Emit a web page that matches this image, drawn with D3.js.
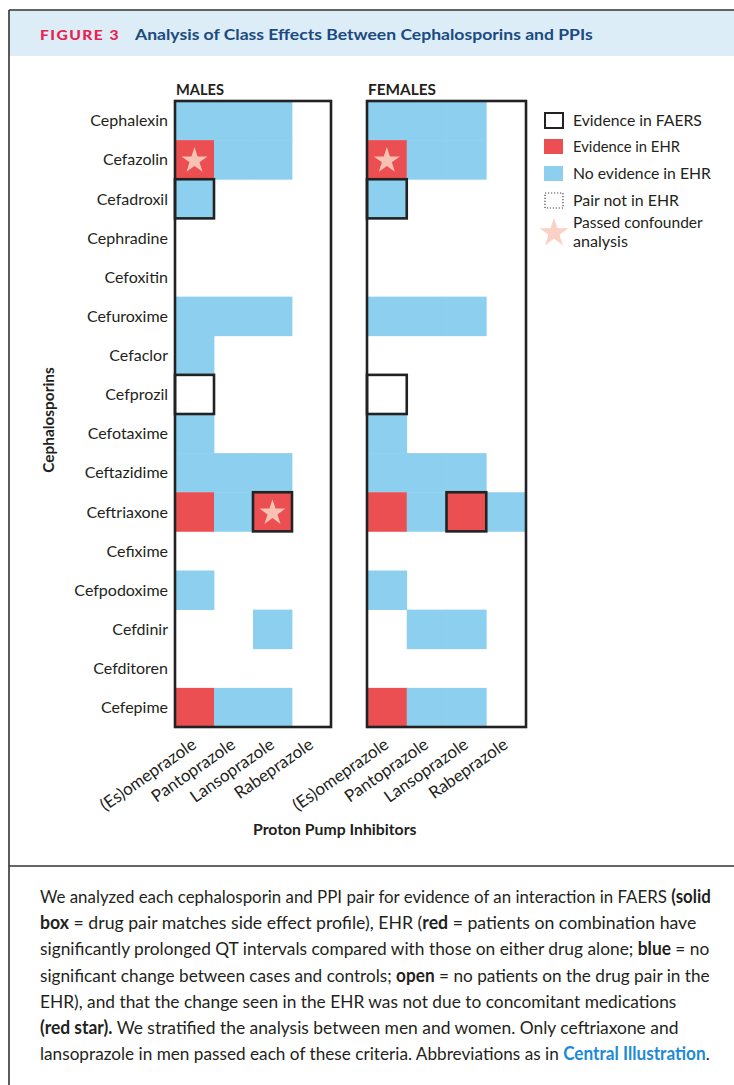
<!DOCTYPE html>
<html><head><meta charset="utf-8">
<script src="https://cdn.jsdelivr.net/npm/d3@7"></script>
<style>body{margin:0;background:#fff} svg{display:block}</style>
</head><body>
<svg id="c" width="734" height="1085"></svg>
<script>
// ---------- data ----------
const cephalosporins = ["Cephalexin","Cefazolin","Cefadroxil","Cephradine","Cefoxitin","Cefuroxime","Cefaclor","Cefprozil","Cefotaxime","Ceftazidime","Ceftriaxone","Cefixime","Cefpodoxime","Cefdinir","Cefditoren","Cefepime"];
const ppis = ["(Es)omeprazole","Pantoprazole","Lansoprazole","Rabeprazole"];
// EHR result per cephalosporin, one character per PPI: R = evidence, B = no evidence, - = pair not in EHR
const maleEHR   = ["BBB-","RBB-","B---","----","----","BBB-","B---","----","B---","BBB-","RBR-","----","B---","--B-","----","RBB-"];
const femaleEHR = ["BBB-","RBB-","B---","----","----","BBB-","----","----","B---","BBB-","RBRB","----","B---","-BB-","----","RBB-"];
const maleFAERS   = [["Cefadroxil","(Es)omeprazole"],["Cefprozil","(Es)omeprazole"],["Ceftriaxone","Lansoprazole"]];
const femaleFAERS = [["Cefadroxil","(Es)omeprazole"],["Cefprozil","(Es)omeprazole"],["Ceftriaxone","Lansoprazole"]];
const maleStar   = [["Cefazolin","(Es)omeprazole"],["Ceftriaxone","Lansoprazole"]];
const femaleStar = [["Cefazolin","(Es)omeprazole"]];
const legendLabels = ["Evidence in FAERS","Evidence in EHR","No evidence in EHR","Pair not in EHR","Passed confounder|analysis"];
const panelTitles = ["MALES","FEMALES"];

// ---------- style ----------
const BLUE = "#8dcfee", RED = "#ec4f52", STAR = "#f7c2b2", INK = "#231f20";
const FONT = "Lato, 'Liberation Sans', Arial, sans-serif";

const svg = d3.select("#c").style("font-family", FONT);

function fit(sel, target, x, y, rot) {
  sel.attr("x", 0).attr("y", 0);
  const w = sel.node().getBBox().width;
  const s = target / w;
  sel.attr("transform", `translate(${x},${y})${rot ? ` rotate(${rot})` : ""} scale(${s},1)`);
  return sel;
}

// ---------- frame & header ----------
svg.append("rect").attr("x", 9).attr("y", 10).attr("width", 725).attr("height", 46).attr("fill", "#dcedf7");
svg.append("line").attr("x1", 9).attr("x2", 734).attr("y1", 10).attr("y2", 10).attr("stroke", "#333").attr("stroke-width", 1.6);
svg.append("line").attr("x1", 9).attr("x2", 9).attr("y1", 10).attr("y2", 1085).attr("stroke", "#333").attr("stroke-width", 1.6);
svg.append("line").attr("x1", 9).attr("x2", 734).attr("y1", 866).attr("y2", 866).attr("stroke", "#333").attr("stroke-width", 1.6);

fit(svg.append("text").text("FIGURE 3").attr("font-weight", 900).attr("font-size", 13)
  .attr("letter-spacing", 1.2).attr("fill", "#e5234f"), 80, 40, 40);
fit(svg.append("text").text("Analysis of Class Effects Between Cephalosporins and PPIs")
  .attr("font-weight", 700).attr("font-size", 16).attr("fill", "#1b4a80"), 459, 135, 40);

// ---------- scales ----------
const y = d3.scaleBand().domain(cephalosporins).range([101, 727]);
const xMale = d3.scaleBand().domain(ppis).range([175, 331]);
const xFemale = d3.scaleBand().domain(ppis).range([367, 526]);

const star = d3.symbol().type(d3.symbolStar).size(210);

function panel(x, ehr, faers, stars, title, titleW) {
  const g = svg.append("g");
  const cells = [];
  cephalosporins.forEach((c, i) => ppis.forEach((p, j) => {
    const v = ehr[i][j];
    if (v !== "-") cells.push({c, p, v});
  }));
  g.selectAll("rect.cell").data(cells).join("rect").attr("class", "cell")
    .attr("x", d => x(d.p)).attr("y", d => y(d.c))
    .attr("width", x.bandwidth() + 0.4).attr("height", y.bandwidth() + 0.4)
    .attr("fill", d => d.v === "R" ? RED : BLUE);
  g.selectAll("path.star").data(stars).join("path").attr("class", "star")
    .attr("d", star).attr("fill", STAR)
    .attr("transform", d => `translate(${x(d[1]) + x.bandwidth() / 2},${y(d[0]) + y.bandwidth() / 2 + 1})`);
  g.selectAll("rect.faers").data(faers).join("rect").attr("class", "faers")
    .attr("x", d => x(d[1])).attr("y", d => y(d[0]))
    .attr("width", x.bandwidth()).attr("height", y.bandwidth())
    .attr("fill", "none").attr("stroke", "#222").attr("stroke-width", 2.6);
  const [x0, x1] = x.range(), [y0, y1] = y.range();
  g.append("rect").attr("x", x0).attr("y", y0).attr("width", x1 - x0).attr("height", y1 - y0)
    .attr("fill", "none").attr("stroke", "#222").attr("stroke-width", 2.6);
  fit(g.append("text").text(title).attr("font-weight", 700).attr("font-size", 15).attr("fill", INK), titleW, x0 + 1, 95);

  const ax = g.append("g").attr("transform", `translate(0,${y1})`)
    .call(d3.axisBottom(x).tickSize(0));
  ax.select(".domain").remove();
  ax.selectAll("text").attr("x", 0).attr("y", 0).attr("dy", 0)
    .attr("transform", "translate(3,20) rotate(-35)").attr("text-anchor", "end")
    .attr("font-family", FONT).attr("font-size", 17).attr("fill", INK);
}
panel(xMale, maleEHR, maleFAERS, maleStar, panelTitles[0], 48);
panel(xFemale, femaleEHR, femaleFAERS, femaleStar, panelTitles[1], 68);

// y axis
const ay = svg.append("g").attr("transform", "translate(175,0)")
  .call(d3.axisLeft(y).tickSize(0).tickPadding(7));
ay.select(".domain").remove();
ay.selectAll("text").attr("font-family", FONT).attr("font-size", 16).attr("fill", INK).attr("dy", "0.36em");

fit(svg.append("text").text("Cephalosporins").attr("font-weight", 700).attr("font-size", 15)
  .attr("fill", INK).attr("text-anchor", "middle"), 106, 54, 420, -90);
fit(svg.append("text").text("Proton Pump Inhibitors").attr("font-weight", 700).attr("font-size", 15)
  .attr("fill", INK), 164, 253, 835);

// ---------- legend ----------
const lg = svg.append("g");
const ly = [113, 139, 166, 193];
lg.append("rect").attr("x", 545).attr("y", ly[0]).attr("width", 18).attr("height", 15).attr("fill", "none").attr("stroke", "#222").attr("stroke-width", 2);
lg.append("rect").attr("x", 544).attr("y", ly[1]).attr("width", 19).attr("height", 15).attr("fill", RED);
lg.append("rect").attr("x", 544).attr("y", ly[2]).attr("width", 19).attr("height", 15).attr("fill", BLUE);
lg.append("rect").attr("x", 545).attr("y", ly[3]).attr("width", 18).attr("height", 15).attr("fill", "none").attr("stroke", "#444").attr("stroke-width", 1.2).attr("stroke-dasharray", "1.2,1.8");
lg.append("path").attr("d", d3.symbol().type(d3.symbolStar).size(260)()).attr("fill", "#fad1c5").attr("transform", "translate(554,233)");
const lw = [129, 107, 138, 106, 130, 55];
legendLabels.slice(0, 4).forEach((t, i) => {
  fit(lg.append("text").text(t).attr("font-size", 16).attr("fill", INK), lw[i], 573, ly[i] + 13);
});
legendLabels[4].split("|").forEach((t, i) => {
  fit(lg.append("text").text(t).attr("font-size", 16).attr("fill", INK), lw[4 + i], 573, 228 + i * 19);
});

// ---------- caption ----------
const caption = [
  [["We analyzed each cephalosporin and PPI pair for evidence of an interaction in FAERS ", 0], ["(solid", 1]],
  [["box", 1], [" = drug pair matches side effect profile), EHR (", 0], ["red", 1], [" = patients on combination have", 0]],
  [["significantly prolonged QT intervals compared with those on either drug alone; ", 0], ["blue", 1], [" = no", 0]],
  [["significant change between cases and controls; ", 0], ["open", 1], [" = no patients on the drug pair in the", 0]],
  [["EHR), and that the change seen in the EHR was not due to concomitant medications", 0]],
  [["(red star).", 1], [" We stratified the analysis between men and women. Only ceftriaxone and", 0]],
  [["lansoprazole in men passed each of these criteria. Abbreviations as in ", 0], ["Central Illustration", 2], [".", 0]]
];
const capW = [671, 657, 670, 670, 637, 639, 670];
caption.forEach((line, i) => {
  const t = svg.append("text").attr("font-size", 18).attr("fill", INK);
  line.forEach(([s, b]) => t.append("tspan").text(s)
    .attr("font-weight", b ? 700 : 400).attr("fill", b === 2 ? "#1d8ad6" : INK));
  fit(t, capW[i], 40, 903 + i * 26.2);
});
</script>
</body></html>
